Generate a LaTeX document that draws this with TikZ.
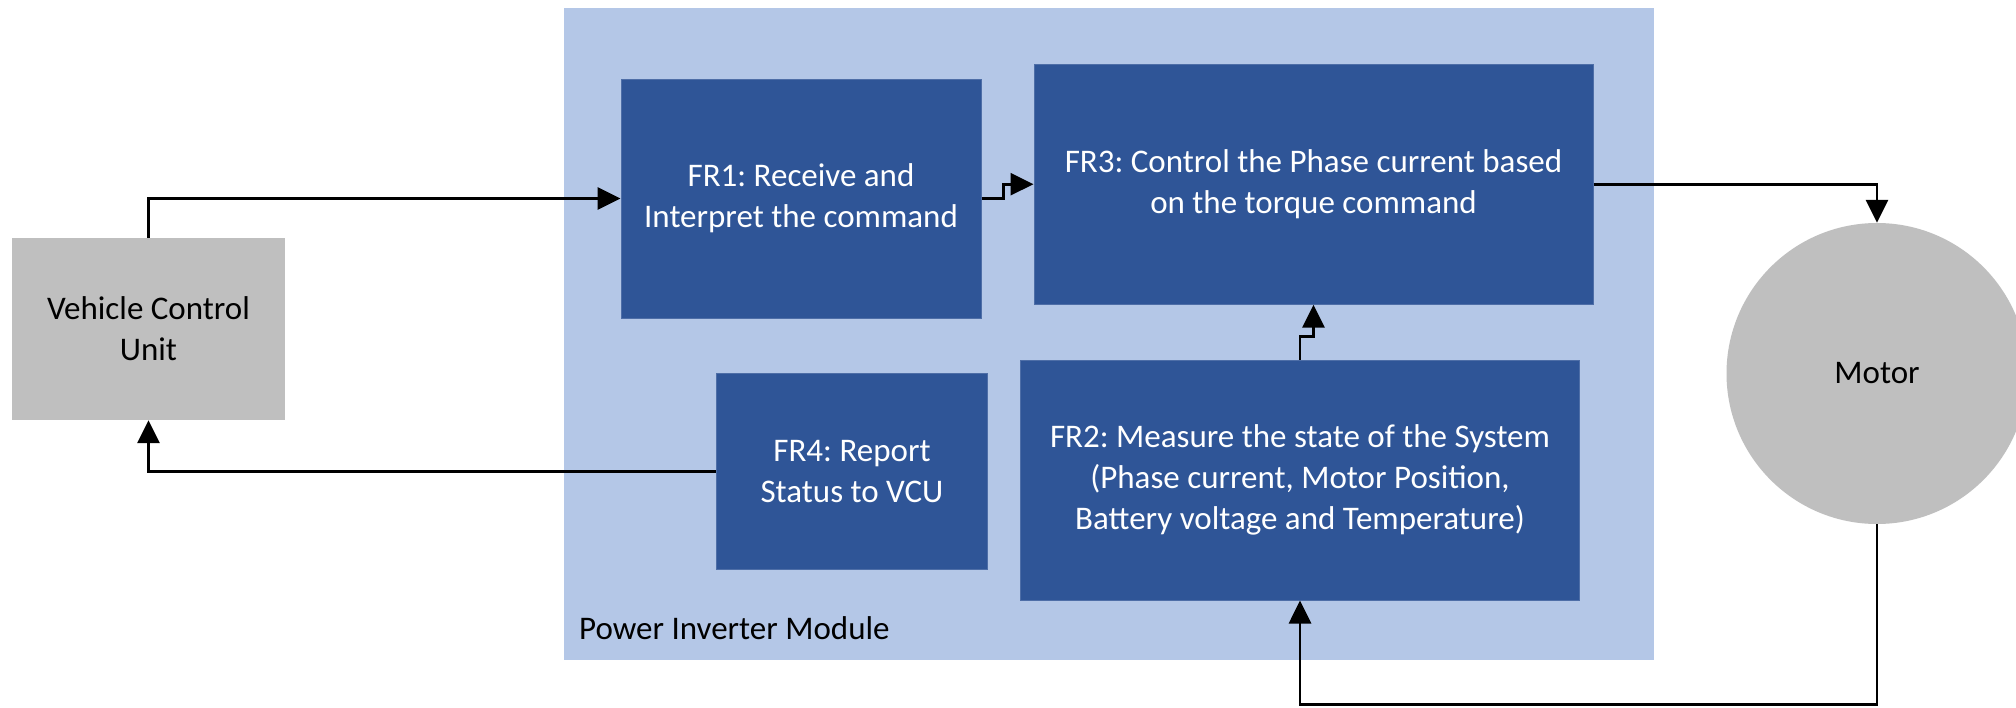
\documentclass[tikz,border=0pt]{standalone}
\usepackage{fontspec}
\setmainfont{Carlito}
\frenchspacing
\usetikzlibrary{arrows.meta}
\definecolor{pimblue}{HTML}{B4C7E7}
\definecolor{frblue}{HTML}{2F5597}
\definecolor{extgray}{HTML}{BFBFBF}
\begin{document}
\begin{tikzpicture}[x=1pt,y=-1pt,
  font=\fontsize{33}{41}\selectfont,
  frbox/.style={rectangle,fill=frblue,draw=frblue!85!white,line width=1pt,text=white,align=center,inner sep=0pt},
  extbox/.style={rectangle,fill=extgray,text=black,align=center,inner sep=0pt},
  conn/.style={line width=2.8pt,-{Triangle[length=23pt,width=22pt]}},
  ]
\useasboundingbox (0,0) rectangle (2016,707);
\clip (0,0) rectangle (2016,707);
\fill[white] (0,0) rectangle (2016,707);
% Power Inverter Module container
\node[rectangle,fill=pimblue,inner sep=0pt,minimum width=1090pt,minimum height=652pt] (pim) at (1109,333.5) {};
\node[anchor=base west,inner sep=0pt] (pimlabel) at (579,639) {Power Inverter Module};
% external blocks
\node[extbox,minimum width=273pt,minimum height=182pt] (vcu) at (148.5,329) {Vehicle Control\\Unit};
\node[circle,fill=extgray,inner sep=0pt,minimum size=301pt] (motor) at (1877,373.5) {Motor};
% functional requirement blocks
\node[frbox,minimum width=360pt,minimum height=239pt] (fr1) at (801,198.5) {FR1: Receive and\\Interpret the command};
\node[frbox,minimum width=559pt,minimum height=240pt] (fr3) at (1313.5,184.2) {FR3: Control the Phase current based\\on the torque command};
\node[frbox,minimum width=271pt,minimum height=195.5pt] (fr4) at (852,471.7) {FR4: Report\\Status to VCU};
\node[frbox,minimum width=559pt,minimum height=240pt] (fr2) at (1300,480) {FR2: Measure the state of the System\\(Phase current, Motor Position,\\Battery voltage and Temperature)};
% connectors
\draw[conn] (vcu.north) |- (fr1.west);
\draw[conn] (fr4.west) -| (vcu.south);
\draw[conn] (fr1.east) -- ++(22,0) |- (fr3.west);
\draw[conn] (fr2.north) -- ++(0,-23) -| (fr3.south);
\draw[conn] (fr3.east) -| (motor.north);
\draw[conn] (motor.south) -- ++(0,180) -| (fr2.south);
\end{tikzpicture}
\end{document}
